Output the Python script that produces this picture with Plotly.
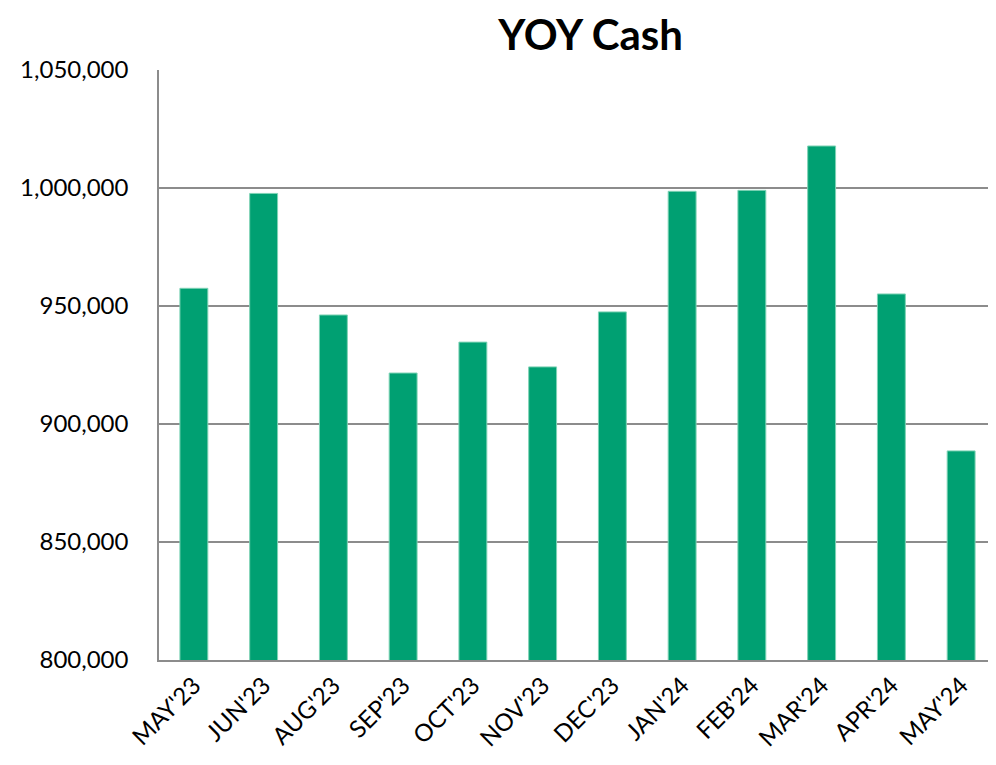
import plotly.graph_objects as go

# Month labels and cash balances
months = ["MAY'23", "JUN'23", "AUG'23", "SEP'23", "OCT'23", "NOV'23",
          "DEC'23", "JAN'24", "FEB'24", "MAR'24", "APR'24", "MAY'24"]
cash = [957500, 997700, 946200, 921600, 934700, 924200,
        947500, 998600, 999000, 1017800, 955100, 888600]

y_ticks = [800000, 850000, 900000, 950000, 1000000, 1050000]

fig = go.Figure(
    go.Bar(
        x=months,
        y=cash,
        marker=dict(color="#00A072", line=dict(color="#7FD3B6", width=1)),
        showlegend=False,
    )
)

fig.update_layout(
    width=996,
    height=765,
    template="plotly_white",
    plot_bgcolor="white",
    paper_bgcolor="white",
    bargap=0.6,
    margin=dict(l=151, r=8, t=62, b=113),
    font=dict(family="Lato, Open Sans, sans-serif", color="black"),
    title=dict(
        text="<b>YOY Cash</b>",
        x=0.585,
        xanchor="center",
        y=0.964,
        yanchor="middle",
        font=dict(size=42, color="black"),
    ),
)
fig.update_yaxes(
    range=[800000, 1050000],
    tickvals=y_ticks,
    tickformat=",.0f",
    tickfont=dict(size=24),
    ticklabelstandoff=24,
    showgrid=True,
    gridcolor="#8C8C8C",
    gridwidth=1.5,
    showline=True,
    linecolor="#8C8C8C",
    linewidth=1.5,
    ticks="",
    zeroline=False,
)
fig.update_xaxes(
    tickangle=-45,
    tickfont=dict(size=24),
    showline=True,
    linecolor="#8C8C8C",
    linewidth=1.5,
    showgrid=False,
    ticks="",
)

fig.write_html("out.html")
